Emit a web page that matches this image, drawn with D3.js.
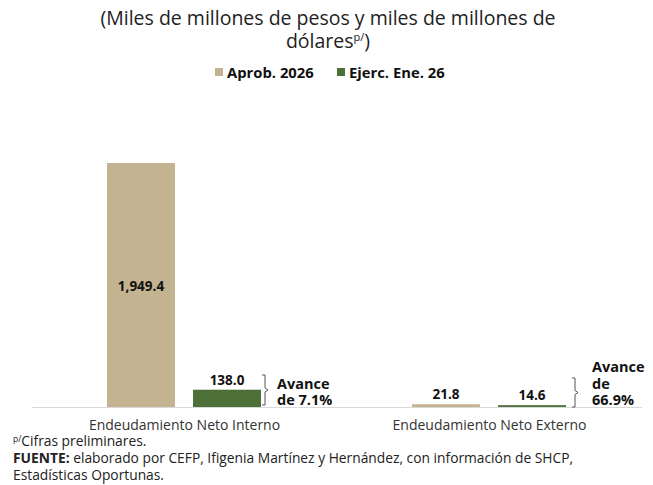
<!DOCTYPE html>
<html>
<head>
    <meta charset="utf-8">
    <script src="https://d3js.org/d3.v7.min.js"></script>
    <style>
        body { margin: 0; background: #fff; }
        text { font-family: "Open Sans", "DejaVu Sans", sans-serif; }
    </style>
</head>
<body>
<div id="vis"></div>
<script>
    // data
    var categories = ["Endeudamiento Neto Interno", "Endeudamiento Neto Externo"];
    var seriesNames = ["Aprob. 2026", "Ejerc. Ene. 26"];
    var aprobValues = [1949.4, 21.8];
    var ejercValues = [138.0, 14.6];
    var avanceLabels = [["Avance", "de 7.1%"], ["Avance", "de", "66.9%"]];
    var colors = ["#C3B391", "#4D7039"];

    var W = 653, H = 485;
    var baseY = 407;

    var svg = d3.select("#vis")
        .append("svg")
        .attr("width", W)
        .attr("height", H);

    // title
    var title = svg.append("text")
        .attr("x", 328)
        .attr("text-anchor", "middle")
        .style("font-size", "19.5px")
        .style("fill", "#222");
    title.append("tspan").attr("x", 328).attr("y", 25)
        .text("(Miles de millones de pesos y miles de millones de");
    title.append("tspan").attr("x", 328).attr("y", 48).text("dólares");
    title.append("tspan").attr("dy", -7).style("font-size", "11px").text("p/");
    title.append("tspan").attr("dy", 7).text(")");

    // legend
    var legendX = [215, 337];
    seriesNames.forEach(function (s, i) {
        svg.append("rect")
            .attr("x", legendX[i]).attr("y", 68)
            .attr("width", 8).attr("height", 8)
            .attr("fill", colors[i]);
        svg.append("text")
            .attr("x", legendX[i] + 12).attr("y", 77.5)
            .style("font-size", "14.8px")
            .style("font-weight", "bold")
            .style("fill", "#111")
            .text(s);
    });

    // scales
    var x0 = d3.scaleBand()
        .domain(categories)
        .range([32, 642]);
    var x1 = d3.scaleBand()
        .domain(seriesNames)
        .range([75, 229])
        .paddingInner(0.21);
    var y = d3.scaleLinear()
        .domain([0, 1949.4])
        .range([baseY, 163]);

    // baseline
    svg.append("line")
        .attr("x1", x0.range()[0]).attr("x2", x0.range()[1])
        .attr("y1", baseY + 0.5).attr("y2", baseY + 0.5)
        .attr("stroke", "#d9d9d9").attr("stroke-width", 1);

    var rows = categories.map(function (c, i) {
        return { cat: c, vals: [aprobValues[i], ejercValues[i]], idx: i };
    });

    var groups = svg.selectAll(".grp")
        .data(rows)
        .enter()
        .append("g")
        .attr("transform", function (d) { return "translate(" + x0(d.cat) + ",0)"; });

    var barData = function (d) {
        return d.vals.map(function (v, j) { return { s: seriesNames[j], v: v, j: j, gi: d.idx }; });
    };

    groups.selectAll("rect")
        .data(barData)
        .enter()
        .append("rect")
        .attr("x", function (d) { return x1(d.s); })
        .attr("y", function (d) { return y(d.v); })
        .attr("width", x1.bandwidth())
        .attr("height", function (d) { return baseY - y(d.v); })
        .attr("fill", function (d) { return colors[d.j]; });

    // value labels
    groups.selectAll(".val")
        .data(barData)
        .enter()
        .append("text")
        .attr("x", function (d) { return x1(d.s) + x1.bandwidth() / 2; })
        .attr("y", function (d) {
            if (d.gi === 0 && d.j === 0) return (y(d.v) + baseY) / 2 + 6;
            return y(d.v) - 5;
        })
        .attr("text-anchor", "middle")
        .style("font-size", "13.5px")
        .style("font-weight", "bold")
        .style("fill", "#111")
        .text(function (d) { return d3.format(",.1f")(d.v); });

    // brackets + avance labels
    groups.each(function (d) {
        var g = d3.select(this);
        var bx = x1(seriesNames[1]) + x1.bandwidth() + (d.idx === 0 ? 1 : 6);
        var top = d.idx === 0 ? 375 : 378;
        var bot = d.idx === 0 ? 405 : baseY;
        var mid = (top + bot) / 2;
        g.append("path")
            .attr("d", "M" + bx + "," + top + " h3 V" + (mid - 2) + " l3,2 l-3,2 V" + bot + " h-3")
            .attr("fill", "none")
            .attr("stroke", "#555")
            .attr("stroke-width", 1);
        var lines = avanceLabels[d.idx];
        var tx = d.idx === 0 ? bx + 15 : bx + 20;
        var ty0 = 405 - (lines.length - 1) * 16.5;
        lines.forEach(function (t, k) {
            g.append("text")
                .attr("x", tx)
                .attr("y", ty0 + k * 16.5)
                .style("font-size", "14.5px")
                .style("font-weight", "bold")
                .style("fill", "#111")
                .text(t);
        });
    });

    // category labels
    svg.selectAll(".cat")
        .data(categories)
        .enter()
        .append("text")
        .attr("x", function (d) { return x0(d) + x0.bandwidth() / 2; })
        .attr("y", 430)
        .attr("text-anchor", "middle")
        .style("font-size", "14px")
        .style("fill", "#333")
        .text(function (d) { return d; });

    // footnotes
    var f1 = svg.append("text").attr("x", 13).attr("y", 446)
        .style("font-size", "13.8px").style("fill", "#222");
    f1.append("tspan").attr("dy", -4).style("font-size", "8.5px").text("p/");
    f1.append("tspan").attr("dy", 4).text("Cifras preliminares.");

    var f2 = svg.append("text").attr("x", 13).attr("y", 463)
        .style("font-size", "13.8px").style("fill", "#222");
    f2.append("tspan").style("font-weight", "bold").text("FUENTE:");
    f2.append("tspan").text(" elaborado por CEFP, Ifigenia Martínez y Hernández, con información de SHCP,");

    svg.append("text").attr("x", 13).attr("y", 480)
        .style("font-size", "13.8px").style("fill", "#222")
        .text("Estadísticas Oportunas.");
</script>
</body>
</html>
